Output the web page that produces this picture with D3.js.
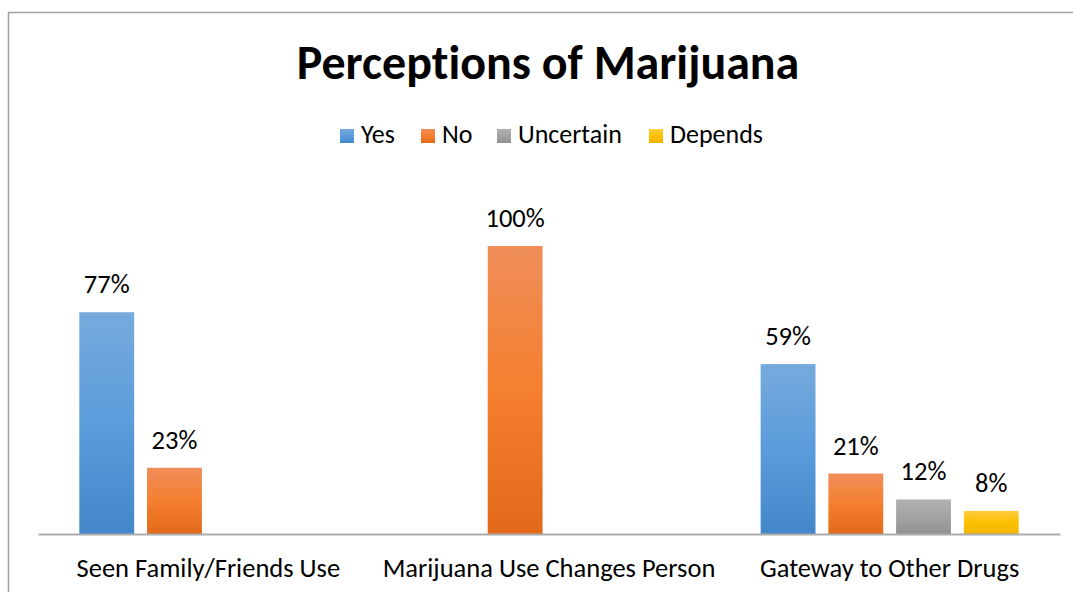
<!DOCTYPE html>
<html>
<head>
<meta charset="utf-8">
<script src="https://cdn.jsdelivr.net/npm/d3@7"></script>
<style>
  html, body { margin: 0; padding: 0; background: #fff; }
  svg text { font-family: Carlito, Lato, "Open Sans", sans-serif; fill: #000; font-variant-ligatures: none; }
</style>
</head>
<body>
<svg id="chart" width="1073" height="592"></svg>
<script>
// Survey answers per question (share of respondents); null = no answer of that kind
const categories = ["Seen Family/Friends Use", "Marijuana Use Changes Person", "Gateway to Other Drugs"];
const seriesNames = ["Yes", "No", "Uncertain", "Depends"];
const yesValues = [0.77, null, 0.59];
const noValues = [0.23, 1.00, 0.21];
const uncertainValues = [null, null, 0.12];
const dependsValues = [null, null, 0.08];
const titleText = "Perceptions of Marijuana";

const seriesValues = [yesValues, noValues, uncertainValues, dependsValues];

// Gradient stops for each series: light top, mid, darker bottom
const seriesGradients = [
  ["#76aadd", "#5b9cdb", "#4387c9"],
  ["#f08e5a", "#f47f2f", "#e2691a"],
  ["#b1b1b1", "#a3a3a3", "#919191"],
  ["#ffcb40", "#ffc000", "#efb500"]
];

const svg = d3.select("#chart");
const W = 1073, H = 592;

// Chart area frame
svg.append("rect")
  .attr("x", 8.5).attr("y", 12.5)
  .attr("width", W + 20).attr("height", H + 20)
  .attr("fill", "#fff")
  .attr("stroke", "#a0a0a0").attr("stroke-width", 1.5);

const defs = svg.append("defs");
seriesGradients.forEach((stops, i) => {
  const g = defs.append("linearGradient")
    .attr("id", "grad" + i)
    .attr("x1", 0).attr("y1", 0).attr("x2", 0).attr("y2", 1);
  g.append("stop").attr("offset", "0%").attr("stop-color", stops[0]);
  g.append("stop").attr("offset", "50%").attr("stop-color", stops[1]);
  g.append("stop").attr("offset", "100%").attr("stop-color", stops[2]);
});

// Scales
const plotLeft = 38, plotRight = 1060, baseY = 534;
const x0 = d3.scaleBand().domain(categories).range([plotLeft, plotRight]).padding(0);
const x1 = d3.scaleBand().domain(seriesNames)
  .range([0, x0.bandwidth()])
  .paddingInner(0.19).paddingOuter(0.61);
const y = d3.scaleLinear().domain([0, 1.2]).range([baseY, baseY - 288 * 1.2]);

// Title
svg.append("text")
  .attr("x", 548).attr("y", 79)
  .attr("text-anchor", "middle")
  .attr("font-weight", "bold")
  .attr("font-size", 48)
  .text(titleText);

// Legend: swatch + label, laid out left to right
const legendX = [340, 421, 497, 649];
const legend = svg.append("g");
seriesNames.forEach((name, i) => {
  legend.append("rect")
    .attr("x", legendX[i]).attr("y", 129)
    .attr("width", 14).attr("height", 14)
    .attr("fill", `url(#grad${i})`);
  legend.append("text")
    .attr("x", legendX[i] + 21).attr("y", 143)
    .attr("font-size", 26)
    .text(name);
});

// Bars and value labels
const barData = [];
seriesValues.forEach((vals, si) => {
  vals.forEach((v, ci) => {
    if (v != null) barData.push({ series: seriesNames[si], si, category: categories[ci], value: v });
  });
});

const bars = svg.append("g");
bars.selectAll("rect")
  .data(barData)
  .join("rect")
  .attr("x", d => x0(d.category) + x1(d.series))
  .attr("y", d => y(d.value))
  .attr("width", x1.bandwidth())
  .attr("height", d => y(0) - y(d.value))
  .attr("fill", d => `url(#grad${d.si})`);

bars.selectAll("text")
  .data(barData)
  .join("text")
  .attr("x", d => x0(d.category) + x1(d.series) + x1.bandwidth() / 2)
  .attr("y", d => y(d.value) - 19)
  .attr("text-anchor", "middle")
  .attr("font-size", 26.5)
  .text(d => Math.round(d.value * 100) + "%");

// Category axis
const xAxis = svg.append("g")
  .attr("transform", `translate(0,${baseY})`)
  .call(d3.axisBottom(x0).tickSize(0).tickPadding(0));
xAxis.select(".domain").attr("stroke", "#ababab").attr("stroke-width", 2);
xAxis.selectAll(".tick text")
  .attr("dy", null)
  .attr("y", 43)
  .attr("font-size", 26.5)
  .attr("font-family", "Carlito, Lato, 'Open Sans', sans-serif")
  .attr("fill", "#000");
</script>
</body>
</html>
